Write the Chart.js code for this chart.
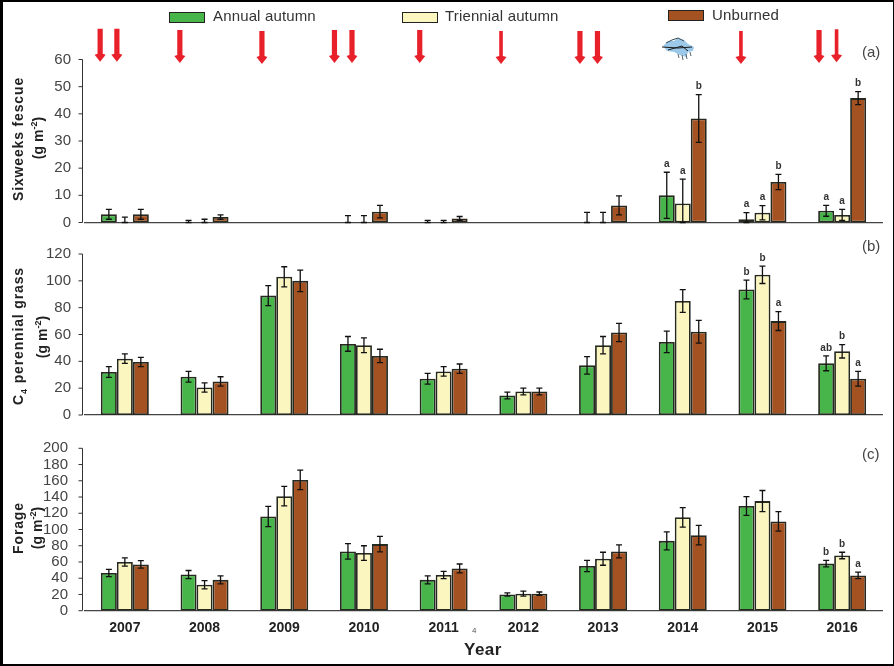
<!DOCTYPE html>
<html>
<head>
  <title>Biomass by burn treatment</title>
  <script src="https://cdn.jsdelivr.net/npm/chart.js"></script>
  <style>
    html, body {
      margin: 0;
      padding: 0;
      background: #fff;
    }
    #page {
      position: relative;
      width: 894px;
      height: 666px;
      overflow: hidden;
      font-family: "Liberation Sans", Arial, sans-serif;
      color: #333;
    }
    #frame {
      position: absolute;
      inset: 0;
      box-sizing: border-box;
      border-style: solid;
      border-color: #000;
      border-width: 2px 1px 2px 3px;
      pointer-events: none;
    }
    .panel {
      position: absolute;
      left: 0;
      width: 894px;
    }
    .swatch {
      position: absolute;
      width: 34px;
      height: 9px;
      border: 1px solid #222;
    }
    .legend-text {
      position: absolute;
      font-size: 15px;
      white-space: nowrap;
      line-height: 18px;
      letter-spacing: 0.15px;
    }
    .panel-tag {
      position: absolute;
      left: 862px;
      font-size: 15px;
      line-height: 18px;
      color: #444;
    }
    .y-title {
      position: absolute;
      font-weight: bold;
      font-size: 14px;
      line-height: 16px;
      white-space: nowrap;
      transform: translate(-50%, -50%) rotate(-90deg);
      color: #222;
    }
    .y-title.spaced {
      letter-spacing: 0.85px;
    }
    .y-title sup, .y-title sub {
      font-size: 9px;
      line-height: 0;
    }
    #yearTitle {
      position: absolute;
      left: 464px;
      top: 640px;
      font-weight: bold;
      font-size: 17px;
      line-height: 20px;
      letter-spacing: 0.5px;
      color: #222;
    }
    #stray {
      position: absolute;
      left: 472px;
      top: 626px;
      font-size: 8px;
      line-height: 10px;
      color: #555;
    }
    #storm {
      position: absolute;
      left: 660px;
      top: 36px;
    }
  </style>
</head>
<body>
  <div id="page">
    <div class="panel" style="top:0;height:260px"><canvas id="fescueChart"></canvas></div>
    <div class="panel" style="top:225px;height:225px"><canvas id="grassChart"></canvas></div>
    <div class="panel" style="top:420px;height:246px"><canvas id="forageChart"></canvas></div>

    <div class="swatch" style="left:169px;top:12px;background:#47b54a"></div>
    <div class="legend-text" style="left:213px;top:7px">Annual autumn</div>
    <div class="swatch" style="left:402px;top:12px;background:#fbf6c0"></div>
    <div class="legend-text" style="left:445px;top:7px">Triennial autumn</div>
    <div class="swatch" style="left:668px;top:10px;background:#a45222"></div>
    <div class="legend-text" style="left:712px;top:6px">Unburned</div>

    <div class="panel-tag" style="top:43px">(a)</div>
    <div class="panel-tag" style="top:237px">(b)</div>
    <div class="panel-tag" style="top:445px">(c)</div>

    <div class="y-title spaced" style="left:18px;top:139px">Sixweeks fescue</div>
    <div class="y-title" style="left:38px;top:138px">(g m<sup>-2</sup>)</div>
    <div class="y-title spaced" style="left:18px;top:336px">C<sub>4</sub> perennial grass</div>
    <div class="y-title" style="left:42px;top:337px">(g m<sup>-2</sup>)</div>
    <div class="y-title spaced" style="left:18px;top:528px">Forage</div>
    <div class="y-title" style="left:37px;top:528px">(g m<sup>-2</sup>)</div>

    <div id="yearTitle">Year</div>
    <div id="stray">4</div>

    <svg id="storm" width="38" height="26" viewBox="0 0 38 26">
      <path d="M3 10 L8 5 L14 5 L18 2 L24 4 L28 8 L34 11 L33 15 L28 16 L26 21 L20 19 L14 16 L7 15 Z" fill="#9cc9ea"/>
      <path d="M6 7 L12 4 L18 2 L24 5" fill="none" stroke="#3b4a55" stroke-width="1"/>
      <path d="M2 11 L18 12 L32 11 M8 14 L22 10 L28 15" fill="none" stroke="#1a1a1a" stroke-width="1"/>
      <path d="M18 18 L19 22 M22 19 L23 24 M26 18 L27 23 M30 16 L31 20" fill="none" stroke="#55636e" stroke-width="1"/>
    </svg>

    <div id="frame"></div>
  </div>

  <script>
    const years = ['2007', '2008', '2009', '2010', '2011', '2012', '2013', '2014', '2015', '2016'];
    const treatments = ['Annual autumn', 'Triennial autumn', 'Unburned'];
    const barColors = ['#47b54a', '#fbf6c0', '#a45222'];

    // (a) Sixweeks fescue
    const fescueAnnual = [3, 0, 0, 0, 0, 0, 0, 10, 1.2, 4.3];
    const fescueTriennial = [0, 0, 0, 0, 0, 0, 0, 7, 3.6, 2.8];
    const fescueUnburned = [3, 2, 0, 4, 1.5, 0, 6.3, 38.3, 14.9, 45.8];
    const fescueAnnualErr = [1.8, 0.8, 0, 2.5, 0.8, 0, 3.7, 8.5, 2.4, 2];
    const fescueTriennialErr = [2, 1.2, 0, 2.5, 0.8, 0, 3.7, 9, 2.6, 2];
    const fescueUnburnedErr = [1.8, 0.8, 0, 2.3, 0.7, 0, 3.5, 8.8, 2.8, 2.4];
    const fescueLetters = [
      { year: 7, labels: ['a', 'a', 'b'] },
      { year: 8, labels: ['a', 'a', 'b'] },
      { year: 9, labels: ['a', 'a', 'b'] }
    ];
    const fescueTicks = [0, 10, 20, 30, 40, 50, 60];

    // (b) C4 perennial grass
    const grassAnnual = [32, 28.5, 89, 53, 27, 14.5, 37, 54.5, 93.5, 38.5];
    const grassTriennial = [42, 20.5, 103, 52, 32.5, 17.5, 52, 85, 104.5, 47.5];
    const grassUnburned = [39.5, 25, 100, 44, 34.5, 17.5, 61.5, 62, 70, 27];
    const grassAnnualErr = [4, 4, 7.5, 5.5, 4, 2.5, 6.5, 8, 7, 5.5];
    const grassTriennialErr = [3.5, 3.5, 7.5, 5.5, 3.5, 2.5, 6.5, 8.5, 6.5, 5];
    const grassUnburnedErr = [3.5, 3.5, 8, 5, 3.5, 2.5, 6.8, 8.5, 7, 5.5];
    const grassLetters = [
      { year: 8, labels: ['b', 'b', 'a'] },
      { year: 9, labels: ['ab', 'b', 'a'] }
    ];
    const grassTicks = [0, 20, 40, 60, 80, 100, 120];

    // (c) Forage
    const forageAnnual = [46.5, 44.5, 116, 73, 38, 20, 55, 86, 129, 58];
    const forageTriennial = [60, 32, 141, 71, 44, 21, 64, 115, 135, 68];
    const forageUnburned = [57, 38, 161, 82, 52, 21, 73, 93, 110, 43.5];
    const forageAnnualErr = [4.5, 5, 12.5, 9.5, 5, 2, 7, 11, 11.5, 4];
    const forageTriennialErr = [5, 5, 12, 9, 4.5, 3, 8, 12, 13, 4];
    const forageUnburnedErr = [4.6, 5, 12, 9.6, 5.5, 2, 8, 12, 12, 4];
    const forageLetters = [
      { year: 9, labels: ['b', 'b', 'a'] }
    ];
    const forageTicks = [0, 20, 40, 60, 80, 100, 120, 140, 160, 180, 200];

    // burn arrows: position along the year axis, and the fescue value at the tip
    const burnPositions = [-0.31, -0.10, 0.69, 1.72, 2.63, 2.85, 3.70, 4.72, 5.71, 5.93, 7.73, 8.71, 8.93];
    const burnTips = [59.2, 59.2, 58.7, 58.3, 58.7, 58.7, 58.7, 58.3, 58.3, 58.3, 58.3, 58.7, 59];
    const burnThin = [7, 10, 12];

    const errorBars = {
      id: 'errorBars',
      afterDatasetsDraw(chart, args, opts) {
        const ctx = chart.ctx;
        const y = chart.scales.y;
        ctx.save();
        ctx.strokeStyle = '#111';
        ctx.lineWidth = 1.3;
        chart.data.datasets.forEach((ds, d) => {
          const meta = chart.getDatasetMeta(d);
          opts.errors[d].forEach((err, i) => {
            if (!err) return;
            const x = meta.data[i].x;
            const top = y.getPixelForValue(ds.data[i] + err);
            const low = y.getPixelForValue(Math.max(ds.data[i] - err, 0));
            ctx.beginPath();
            ctx.moveTo(x, top);
            ctx.lineTo(x, low);
            ctx.moveTo(x - 3, top);
            ctx.lineTo(x + 3, top);
            ctx.moveTo(x - 3, low);
            ctx.lineTo(x + 3, low);
            ctx.stroke();
          });
        });
        // significance letters sit just over the error bars
        ctx.fillStyle = '#333';
        ctx.font = 'bold 10px "Liberation Sans", Arial, sans-serif';
        ctx.textAlign = 'center';
        ctx.textBaseline = 'bottom';
        opts.letters.forEach(group => {
          group.labels.forEach((label, d) => {
            const x = chart.getDatasetMeta(d).data[group.year].x;
            const value = chart.data.datasets[d].data[group.year] + opts.errors[d][group.year];
            ctx.fillText(label, x, y.getPixelForValue(value) - 3);
          });
        });
        ctx.restore();
      }
    };

    // y axis stands a little left of the plot, clear of the baseline
    const offsetAxis = {
      id: 'offsetAxis',
      afterDraw(chart) {
        const ctx = chart.ctx;
        const y = chart.scales.y;
        const axisX = chart.chartArea.left - 2.5;
        ctx.save();
        ctx.strokeStyle = '#333';
        ctx.lineWidth = 1;
        ctx.beginPath();
        ctx.moveTo(axisX, y.top);
        ctx.lineTo(axisX, y.bottom);
        y.ticks.forEach(tick => {
          const py = y.getPixelForValue(tick.value);
          ctx.moveTo(axisX - 4, py);
          ctx.lineTo(axisX, py);
        });
        ctx.stroke();
        ctx.restore();
      }
    };

    const burnArrows = {
      id: 'burnArrows',
      afterDraw(chart) {
        const ctx = chart.ctx;
        ctx.save();
        ctx.fillStyle = '#e8202a';
        burnPositions.forEach((pos, i) => {
          const x = chart.scales.x.getPixelForValue(pos);
          const tip = chart.scales.y.getPixelForValue(burnTips[i]);
          const half = burnThin.includes(i) ? 1.8 : 2.6;
          ctx.beginPath();
          ctx.moveTo(x - half, tip - 33);
          ctx.lineTo(x + half, tip - 33);
          ctx.lineTo(x + half, tip - 8);
          ctx.lineTo(x + 5.5, tip - 7);
          ctx.lineTo(x, tip);
          ctx.lineTo(x - 5.5, tip - 7);
          ctx.lineTo(x - half, tip - 8);
          ctx.closePath();
          ctx.fill();
        });
        ctx.restore();
      }
    };

    function createPanel(id, cfg) {
      const canvas = document.getElementById(id);
      return new Chart(canvas, {
        type: 'bar',
        data: {
          labels: years,
          datasets: cfg.series.map((values, i) => ({
            label: treatments[i],
            data: values,
            backgroundColor: barColors[i],
            borderColor: '#26291f',
            borderWidth: 1.8,
            borderSkipped: false,
            categoryPercentage: 0.602,
            barPercentage: 1
          }))
        },
        options: {
          responsive: true,
          maintainAspectRatio: false,
          animation: false,
          layout: { padding: { top: cfg.top, right: 12, left: 0, bottom: 0 } },
          plugins: {
            legend: { display: false },
            tooltip: { enabled: false },
            errorBars: { errors: cfg.errors, letters: cfg.letters }
          },
          scales: {
            x: {
              grid: { display: false, drawTicks: false },
              border: { color: '#444', width: 1.2 },
              afterFit(scale) { scale.height = cfg.xHeight; },
              ticks: {
                display: cfg.showYears,
                color: '#222',
                padding: 9,
                maxRotation: 0,
                font: { family: '"Liberation Sans", Arial, sans-serif', size: 14, weight: 'bold' }
              }
            },
            y: {
              min: cfg.ticks[0],
              max: cfg.ticks[cfg.ticks.length - 1],
              grid: { display: false, drawTicks: false },
              border: { display: false },
              afterFit(scale) { scale.width = 85; },
              afterBuildTicks(scale) { scale.ticks = cfg.ticks.map(v => ({ value: v })); },
              ticks: {
                autoSkip: false,
                color: '#444',
                padding: cfg.tickGap,
                font: { family: '"Liberation Sans", Arial, sans-serif', size: 15 }
              }
            }
          }
        },
        plugins: cfg.extra
      });
    }

    createPanel('fescueChart', {
      series: [fescueAnnual, fescueTriennial, fescueUnburned],
      errors: [fescueAnnualErr, fescueTriennialErr, fescueUnburnedErr],
      letters: fescueLetters,
      ticks: fescueTicks,
      top: 59.5,
      xHeight: 37.5,
      tickGap: 14,
      showYears: false,
      extra: [errorBars, offsetAxis, burnArrows]
    });

    createPanel('grassChart', {
      series: [grassAnnual, grassTriennial, grassUnburned],
      errors: [grassAnnualErr, grassTriennialErr, grassUnburnedErr],
      letters: grassLetters,
      ticks: grassTicks,
      top: 29,
      xHeight: 35,
      tickGap: 14,
      showYears: false,
      extra: [errorBars, offsetAxis]
    });

    createPanel('forageChart', {
      series: [forageAnnual, forageTriennial, forageUnburned],
      errors: [forageAnnualErr, forageTriennialErr, forageUnburnedErr],
      letters: forageLetters,
      ticks: forageTicks,
      top: 28.3,
      xHeight: 55.3,
      tickGap: 17,
      showYears: true,
      extra: [errorBars, offsetAxis]
    });
  </script>
</body>
</html>
